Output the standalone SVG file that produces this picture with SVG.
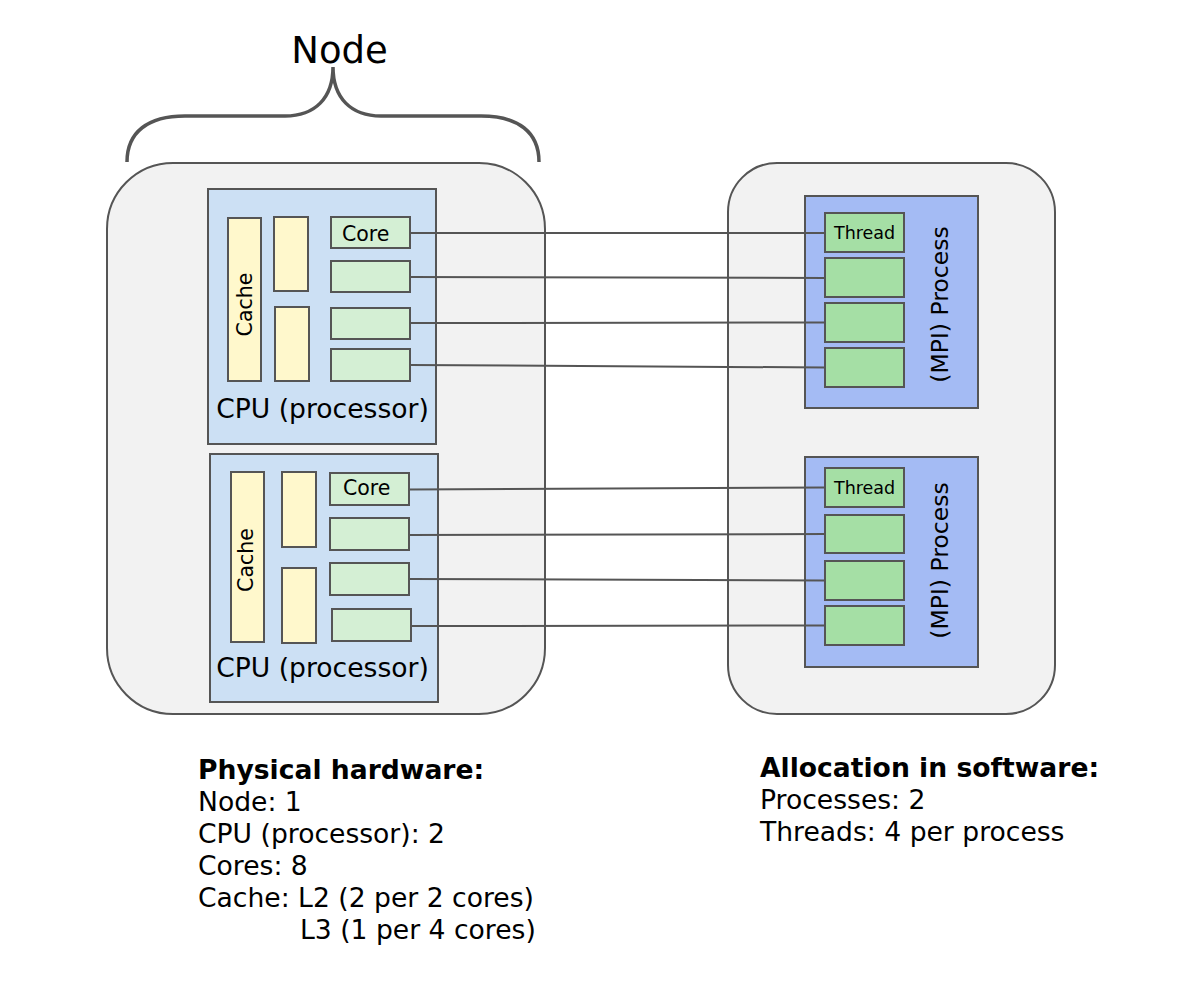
<svg xmlns="http://www.w3.org/2000/svg" width="1188" height="998" viewBox="0 0 1188 998">
<style>
text{font-family:"DejaVu Sans","Liberation Sans",sans-serif;fill:#000}
.outer{fill:#f2f2f2;stroke:#555;stroke-width:2}
.cpu{fill:#cce0f4;stroke:#555;stroke-width:2}
.cache{fill:#fff8cc;stroke:#555;stroke-width:2}
.core{fill:#d4efd4;stroke:#555;stroke-width:2}
.proc{fill:#a4bbf4;stroke:#555;stroke-width:2}
.thread{fill:#a5dfa5;stroke:#555;stroke-width:2}
.conn line{stroke:#555;stroke-width:2}
.big{font-size:26.6px}
.b{font-weight:bold}
</style>
<rect width="1188" height="998" fill="#fff"/>
<g id="brace">
<path d="M127,162 C127,132 148,116 185,116 L285,116 C315,116 333,98 333,67 C333,98 351,116 381,116 L481,116 C518,116 539,132 539,162" fill="none" stroke="#555" stroke-width="3.5"/>
<text x="339.5" y="63" font-size="37" text-anchor="middle">Node</text>
</g>
<g id="hardware-node">
<rect class="outer" x="107" y="163" width="438" height="551" rx="66" ry="66"/>
</g>
<g id="software-node">
<rect class="outer" x="728" y="163" width="327" height="551" rx="49" ry="49"/>
</g>
<g id="cpu1">
<rect class="cpu" x="208" y="189" width="228" height="255"/>
<rect class="cache" x="228" y="218" width="33" height="163"/>
<text transform="translate(252,304.5) rotate(-90)" font-size="20.5" text-anchor="middle">Cache</text>
<rect class="cache" x="274" y="217" width="34" height="74"/>
<rect class="cache" x="275" y="307" width="34" height="74"/>
<rect class="core" x="331" y="217" width="79" height="31"/>
<text x="342" y="241" font-size="20.5">Core</text>
<rect class="core" x="331" y="261" width="79" height="31"/>
<rect class="core" x="331" y="308" width="79" height="31"/>
<rect class="core" x="331" y="349" width="79" height="32"/>
<text class="big" x="322.5" y="418" text-anchor="middle">CPU (processor)</text>
</g>
<g id="cpu2">
<rect class="cpu" x="210" y="454" width="228" height="248"/>
<rect class="cache" x="231" y="472" width="33" height="170"/>
<text transform="translate(253,560) rotate(-90)" font-size="20.5" text-anchor="middle">Cache</text>
<rect class="cache" x="282" y="472" width="34" height="75"/>
<rect class="cache" x="282" y="568" width="34" height="75"/>
<rect class="core" x="330" y="473" width="79" height="32"/>
<text x="343" y="495" font-size="20.5">Core</text>
<rect class="core" x="330" y="518" width="79" height="32"/>
<rect class="core" x="330" y="563" width="79" height="32"/>
<rect class="core" x="332" y="609" width="79" height="32"/>
<text class="big" x="322.5" y="677" text-anchor="middle">CPU (processor)</text>
</g>
<g id="process1">
<rect class="proc" x="805" y="196" width="173" height="212"/>
<rect class="thread" x="825" y="213" width="79" height="39"/>
<text x="834" y="239" font-size="17.5">Thread</text>
<rect class="thread" x="825" y="258" width="79" height="39"/>
<rect class="thread" x="825" y="303" width="79" height="39"/>
<rect class="thread" x="825" y="348" width="79" height="39"/>
<text transform="translate(948,304.5) rotate(-90)" font-size="23.5" text-anchor="middle">(MPI) Process</text>
</g>
<g id="process2">
<rect class="proc" x="805" y="457" width="173" height="210"/>
<rect class="thread" x="825" y="468" width="79" height="39"/>
<text x="834" y="494" font-size="17.5">Thread</text>
<rect class="thread" x="825" y="515" width="79" height="38"/>
<rect class="thread" x="825" y="561" width="79" height="39"/>
<rect class="thread" x="825" y="606" width="79" height="39"/>
<text transform="translate(948,560.5) rotate(-90)" font-size="23.5" text-anchor="middle">(MPI) Process</text>
</g>
<g id="connectors" class="conn">
<line x1="410" y1="233" x2="825" y2="233"/>
<line x1="410" y1="277" x2="825" y2="278"/>
<line x1="410" y1="323" x2="825" y2="322.5"/>
<line x1="410" y1="365" x2="825" y2="367.5"/>
<line x1="409" y1="489.5" x2="825" y2="487.5"/>
<line x1="409" y1="535" x2="825" y2="534"/>
<line x1="409" y1="579" x2="825" y2="580.5"/>
<line x1="411" y1="626" x2="825" y2="625.5"/>
</g>
<g id="hardware-summary" class="big">
<text class="b" x="198" y="779">Physical hardware:</text>
<text x="198" y="811">Node: 1</text>
<text x="198" y="843">CPU (processor): 2</text>
<text x="198" y="875">Cores: 8</text>
<text x="198" y="907">Cache: L2 (2 per 2 cores)</text>
<text x="300" y="939">L3 (1 per 4 cores)</text>
</g>
<g id="software-summary" class="big">
<text class="b" x="760" y="777">Allocation in software:</text>
<text x="760" y="809">Processes: 2</text>
<text x="760" y="841">Threads: 4 per process</text>
</g>
</svg>
